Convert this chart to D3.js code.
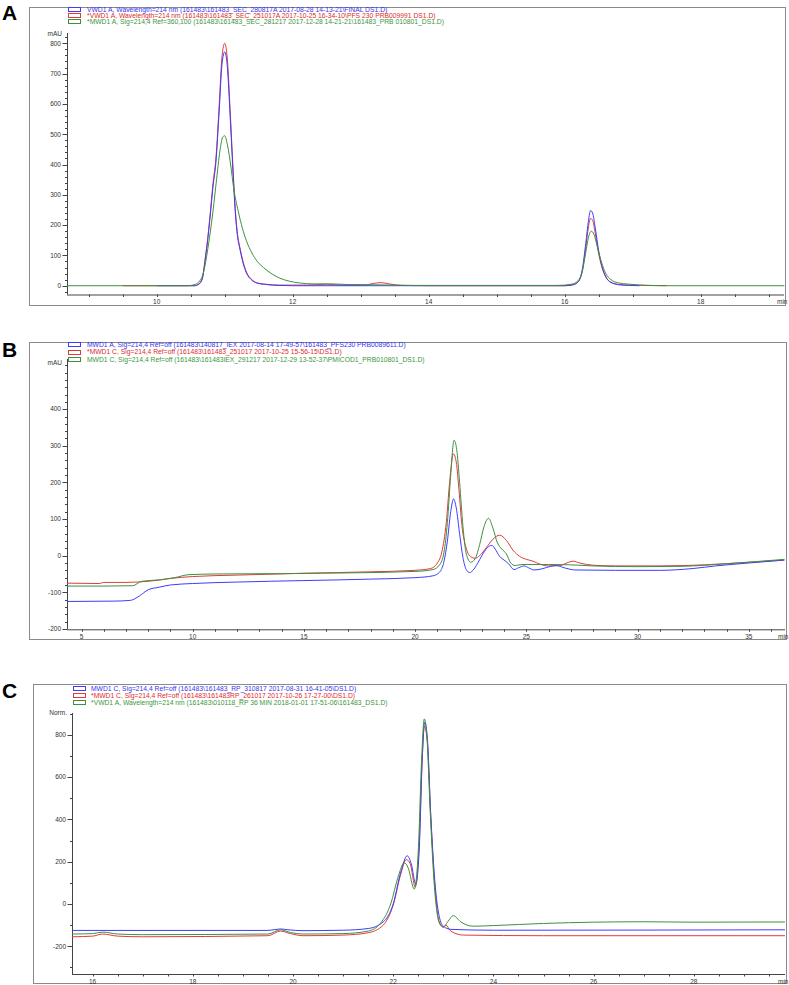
<!DOCTYPE html>
<meta charset="utf-8">
<script src="https://d3js.org/d3.v7.min.js"></script>
<style>
  body { margin: 0; background: #fff; }
  svg { font-family: "Liberation Sans", Arial, sans-serif; }
</style>
<svg id="chart" width="789" height="985"></svg>
<script>

// ---------- data ----------
// colours of the three runs in every panel
var runColors = ["#3c3cff", "#e23a3a", "#3f8f3f"];
var textColors = ["#3434f0", "#e02a2a", "#3c963c"];

// Panel A : SEC, mAU vs min
var aLegend = [
  "VWD1 A, Wavelength=214 nm (161483\\161483_SEC_280817A 2017-08-28 14-13-21\\FINAL DS1.D)",
  "*VWD1 A, Wavelength=214 nm (161483\\161483_SEC_251017A 2017-10-25 16-34-10\\PFS 230 PRB009991 DS1.D)",
  "*MWD1 A, Sig=214,4 Ref=360,100 (161483\\161483_SEC_281217 2017-12-28 14-21-21\\161483_PRB 010801_DS1.D)"
];
var aBlue = [[10.0,0],[10.55,0],[10.62,5],[10.67,22],[10.71,80],[10.75,150],[10.78,215],[10.83,330],[10.87,405],[10.92,580],[10.96,730],[11.0,772],[11.04,720],[11.08,560],[11.12,385],[11.15,262],[11.19,160],[11.22,125],[11.27,75],[11.32,42],[11.4,18],[11.47,9],[11.6,4],[11.8,1],[12.0,0],[16.0,0],[16.12,3],[16.2,14],[16.26,55],[16.31,140],[16.35,215],[16.38,248],[16.41,240],[16.45,190],[16.5,115],[16.56,55],[16.62,24],[16.7,9],[16.8,3],[16.95,1],[17.1,0]];
var aRed = [[9.5,0],[10.55,0],[10.62,6],[10.67,24],[10.71,84],[10.75,156],[10.78,222],[10.83,342],[10.87,418],[10.92,600],[10.96,755],[11.0,800],[11.04,745],[11.08,580],[11.12,398],[11.15,272],[11.19,168],[11.22,130],[11.27,80],[11.32,45],[11.4,20],[11.47,10],[11.6,5],[11.8,2],[12.2,2],[12.5,5],[12.75,2],[13.05,2],[13.2,8],[13.3,10],[13.42,6],[13.6,1],[14.0,0],[16.0,0],[16.12,3],[16.2,13],[16.26,50],[16.31,125],[16.35,195],[16.38,222],[16.41,216],[16.45,172],[16.5,105],[16.56,52],[16.62,23],[16.7,9],[16.85,3],[17.1,1],[17.5,0]];
var aGreen = [[8.68,0],[10.45,0],[10.55,3],[10.64,18],[10.7,55],[10.74,105],[10.79,180],[10.83,250],[10.88,350],[10.93,445],[10.97,490],[11.0,495],[11.04,465],[11.09,395],[11.13,325],[11.2,245],[11.26,190],[11.32,148],[11.4,108],[11.48,80],[11.57,60],[11.7,38],[11.81,25],[11.95,15],[12.1,9],[12.3,6],[12.55,6],[12.8,4],[13.2,3],[13.8,1],[15.9,1],[16.1,5],[16.19,15],[16.26,48],[16.31,110],[16.35,160],[16.39,180],[16.43,170],[16.48,128],[16.54,78],[16.6,42],[16.68,20],[16.78,10],[16.95,5],[17.15,2],[17.5,0],[19.23,0]];

// Panel B : IEX, mAU vs min
var bLegend = [
  "MWD1 A, Sig=214,4 Ref=off (161483\\140817_IEX 2017-08-14 17-49-57\\161483_PFS230 PRB0089611.D)",
  "*MWD1 C, Sig=214,4 Ref=off (161483\\161483_251017 2017-10-25 15-56-15\\DS1.D)",
  "MWD1 C, Sig=214,4 Ref=off (161483\\161483IEX_291217 2017-12-29 13-52-37\\PMICOD1_PRB010801_DS1.D)"
];
var bBlue = [[4.35,-125],[6.5,-124],[7.2,-122],[7.6,-110],[8.0,-93],[8.5,-86],[9.0,-80],[10,-76],[12,-72],[15,-68],[18,-64],[20,-60],[20.8,-55],[21.1,-45],[21.3,-15],[21.45,40],[21.6,120],[21.73,155],[21.85,130],[22.0,60],[22.15,-5],[22.3,-38],[22.45,-46],[22.6,-40],[22.8,-22],[23.0,0],[23.25,22],[23.45,28],[23.6,18],[23.8,-2],[24.0,-12],[24.2,-22],[24.45,-38],[24.65,-33],[24.9,-28],[25.1,-33],[25.35,-39],[25.7,-36],[26.1,-29],[26.35,-27],[26.7,-33],[27.2,-39],[29,-40],[31,-40],[32.5,-35],[33.5,-28],[35,-20],[36.6,-12]];
var bRed = [[4.35,-75],[5.8,-76],[6.0,-73],[7,-73],[7.5,-72],[8.3,-68],[9,-62],[10,-57],[12,-53],[15,-48],[18,-44],[20,-40],[20.7,-35],[21.0,-20],[21.2,10],[21.4,90],[21.55,200],[21.72,278],[21.85,255],[21.97,180],[22.1,85],[22.3,20],[22.5,-3],[22.7,-7],[22.9,0],[23.2,22],[23.5,45],[23.8,56],[24.1,42],[24.4,15],[24.7,-2],[25.0,-10],[25.3,-15],[25.6,-23],[26.0,-28],[26.5,-27],[26.9,-18],[27.1,-15],[27.4,-20],[28,-26],[29,-28],[31,-28],[33,-25],[35,-18],[36.6,-12]];
var bGreen = [[4.35,-83],[6,-83],[7.3,-82],[7.7,-70],[8.5,-66],[9.2,-60],[9.8,-52],[11,-50],[14,-49],[17,-47],[20,-43],[20.8,-38],[21.1,-25],[21.3,10],[21.45,90],[21.6,220],[21.75,315],[21.87,290],[22.0,200],[22.15,80],[22.3,5],[22.5,-18],[22.7,-8],[22.9,30],[23.1,80],[23.3,102],[23.5,75],[23.7,35],[23.9,18],[24.1,5],[24.3,-20],[24.5,-27],[24.8,-24],[25.3,-24],[26,-24],[27,-25],[28,-28],[30,-30],[32,-29],[34,-22],[36.6,-10]];

// Panel C : RP, Norm. vs min
var cLegend = [
  "MWD1 C, Sig=214,4 Ref=off (161483\\161483_RP_310817 2017-08-31 16-41-05\\DS1.D)",
  "*MWD1 C, Sig=214,4 Ref=off (161483\\161483RP_261017 2017-10-26 17-27-00\\DS1.D)",
  "*VWD1 A, Wavelength=214 nm (161483\\010118_RP 36 MIN 2018-01-01 17-51-06\\161483_DS1.D)"
];
var cBlue = [[15.59,-125],[19.5,-125],[19.75,-118],[19.9,-122],[20.2,-126],[21.0,-124],[21.5,-116],[21.8,-85],[22.0,0],[22.15,150],[22.28,228],[22.36,190],[22.45,95],[22.52,260],[22.58,690],[22.63,860],[22.68,790],[22.75,420],[22.83,110],[22.92,-60],[23.0,-105],[23.15,-120],[24,-124],[29.82,-122]];
var cRed = [[15.59,-155],[16.0,-152],[16.2,-142],[16.5,-152],[17,-155],[19.5,-150],[19.75,-128],[19.95,-140],[20.2,-150],[21,-147],[21.5,-136],[21.8,-100],[22.0,-5],[22.15,140],[22.26,210],[22.34,190],[22.44,80],[22.52,290],[22.58,690],[22.62,840],[22.68,770],[22.75,410],[22.83,90],[22.92,-85],[23.0,-108],[23.05,-100],[23.15,-128],[23.4,-147],[25,-150],[29.82,-150]];
var cGreen = [[15.59,-142],[16.0,-140],[16.2,-133],[16.5,-142],[17,-145],[19.5,-142],[19.75,-122],[19.95,-135],[20.2,-142],[21,-140],[21.5,-128],[21.75,-90],[21.95,0],[22.1,130],[22.22,195],[22.3,170],[22.42,70],[22.5,250],[22.57,700],[22.62,875],[22.67,800],[22.74,430],[22.82,90],[22.92,-90],[23.0,-110],[23.1,-80],[23.2,-55],[23.35,-85],[23.6,-105],[24,-102],[25,-92],[26,-86],[27,-84],[28,-86],[29.82,-85]];

// ---------- layout ----------
var panels = [
  { label: "A", labelY: 19.5, frame: [29, 7, 756, 298], legend: aLegend, legendY: [9.3, 15.3, 21.3],
    boxX: 68, textX: 87, yTitle: "mAU", yTitleY: 36,
    series: [aRed, aBlue, aGreen], order: [1, 0, 2],
    x: [8.681, 19.225], xr: [67, 784], y: [-29, 834], yr: [294.5, 33],
    xMajor: d3.range(10, 19, 2), xMinor: d3.range(9, 19.01, 0.5),
    yMajor: d3.range(0, 801, 100), yMinor: d3.range(-20, 831, 20) },
  { label: "B", labelY: 356.5, frame: [29, 342, 757, 297], legend: bLegend, legendY: [344.7, 352.0, 359.3],
    boxX: 68, textX: 87, yTitle: "mAU", yTitleY: 364.5,
    series: [bRed, bBlue, bGreen], order: [1, 0, 2],
    x: [4.348, 36.63], xr: [67, 785], y: [-201, 537], yr: [629.3, 359],
    xMajor: d3.range(5, 36, 5), xMinor: d3.range(5, 36.5, 1),
    yMajor: d3.range(-200, 401, 100), yMinor: d3.range(-200, 531, 20) },
  { label: "C", labelY: 697.5, frame: [33, 684, 753, 299], legend: cLegend, legendY: [688.5, 695.2, 702.2],
    boxX: 73, textX: 91, yTitle: "Norm.", yTitleY: 715,
    series: [cRed, cBlue, cGreen], order: [1, 0, 2],
    x: [15.589, 29.82], xr: [72, 785], y: [-331, 903], yr: [974, 713],
    xMajor: d3.range(16, 29, 2), xMinor: d3.range(16, 29.9, 0.5),
    yMajor: d3.range(-200, 801, 200), yMinor: d3.range(-300, 901, 100) }
];

var svg = d3.select("#chart");
svg.append("rect").attr("width", 789).attr("height", 985).attr("fill", "#fff");

panels.forEach(function(p) {
  var g = svg.append("g");
  var x = d3.scaleLinear().domain(p.x).range(p.xr);
  var y = d3.scaleLinear().domain(p.y).range(p.yr);
  var x0 = p.xr[0], yb = p.yr[0];

  // frame
  g.append("rect")
    .attr("x", p.frame[0] + 0.5).attr("y", p.frame[1] + 0.5)
    .attr("width", p.frame[2]).attr("height", p.frame[3])
    .attr("fill", "none").attr("stroke", "#8a8a8a").attr("stroke-width", 1);

  // panel letter
  svg.append("text").attr("x", 2).attr("y", p.labelY)
    .attr("font-size", 21).attr("font-weight", "bold").attr("fill", "#000")
    .text(p.label);

  // legend
  p.legend.forEach(function(t, i) {
    g.append("rect").attr("x", p.boxX + 0.5).attr("y", Math.round(p.legendY[i] - 2.5) + 0.5)
      .attr("width", 12).attr("height", 4)
      .attr("fill", "none").attr("stroke", runColors[i]).attr("stroke-width", 1);
    g.append("text").attr("x", p.textX).attr("y", p.legendY[i] + 2.4)
      .attr("font-size", 6.75).attr("fill", textColors[i]).text(t);
  });

  // y axis
  g.append("line").attr("x1", x0 + 0.5).attr("x2", x0 + 0.5)
    .attr("y1", p.yr[1]).attr("y2", yb).attr("stroke", "#444");
  g.selectAll(".ymin").data(p.yMinor.filter(function(v) { return v >= p.y[0] && v <= p.y[1]; }))
    .enter().append("line")
    .attr("x1", x0 - 2).attr("x2", x0)
    .attr("y1", function(d) { return Math.round(y(d)) + 0.5; })
    .attr("y2", function(d) { return Math.round(y(d)) + 0.5; })
    .attr("stroke", "#444");
  g.selectAll(".ymaj").data(p.yMajor).enter().append("line")
    .attr("x1", x0 - 4.5).attr("x2", x0)
    .attr("y1", function(d) { return Math.round(y(d)) + 0.5; })
    .attr("y2", function(d) { return Math.round(y(d)) + 0.5; })
    .attr("stroke", "#444");
  g.selectAll(".ylab").data(p.yMajor).enter().append("text")
    .attr("x", x0 - 6).attr("y", function(d) { return y(d) + 2.3; })
    .attr("text-anchor", "end").attr("font-size", 6.5).attr("fill", "#333")
    .text(function(d) { return d; });
  g.append("text").attr("x", x0 - 5).attr("y", p.yTitleY)
    .attr("text-anchor", "end").attr("font-size", 6.5).attr("fill", "#333").text(p.yTitle);

  // x axis
  g.append("line").attr("x1", x0).attr("x2", p.xr[1])
    .attr("y1", yb + 0.5).attr("y2", yb + 0.5).attr("stroke", "#444");
  g.selectAll(".xmin").data(p.xMinor.filter(function(v) { return v >= p.x[0] && v <= p.x[1]; }))
    .enter().append("line")
    .attr("x1", function(d) { return Math.round(x(d)) + 0.5; })
    .attr("x2", function(d) { return Math.round(x(d)) + 0.5; })
    .attr("y1", yb).attr("y2", yb + 2.5).attr("stroke", "#444");
  g.selectAll(".xlab").data(p.xMajor).enter().append("text")
    .attr("x", function(d) { return x(d); }).attr("y", yb + 9.5)
    .attr("text-anchor", "middle").attr("font-size", 6.5).attr("fill", "#333")
    .text(function(d) { return d; });
  g.append("text").attr("x", p.xr[1] - 7).attr("y", yb + 9.5)
    .attr("font-size", 6.5).attr("fill", "#333").text("min");

  // traces
  var line = d3.line()
    .x(function(d) { return x(d[0]); })
    .y(function(d) { return y(d[1]); })
    .curve(d3.curveMonotoneX);
  p.order.forEach(function(ci) {
    var data = p.series[[1, 0, 2].indexOf(ci)];
    g.append("path").datum(data)
      .attr("d", line)
      .attr("fill", "none")
      .attr("stroke", runColors[ci])
      .attr("stroke-width", 1);
  });
});
</script>
